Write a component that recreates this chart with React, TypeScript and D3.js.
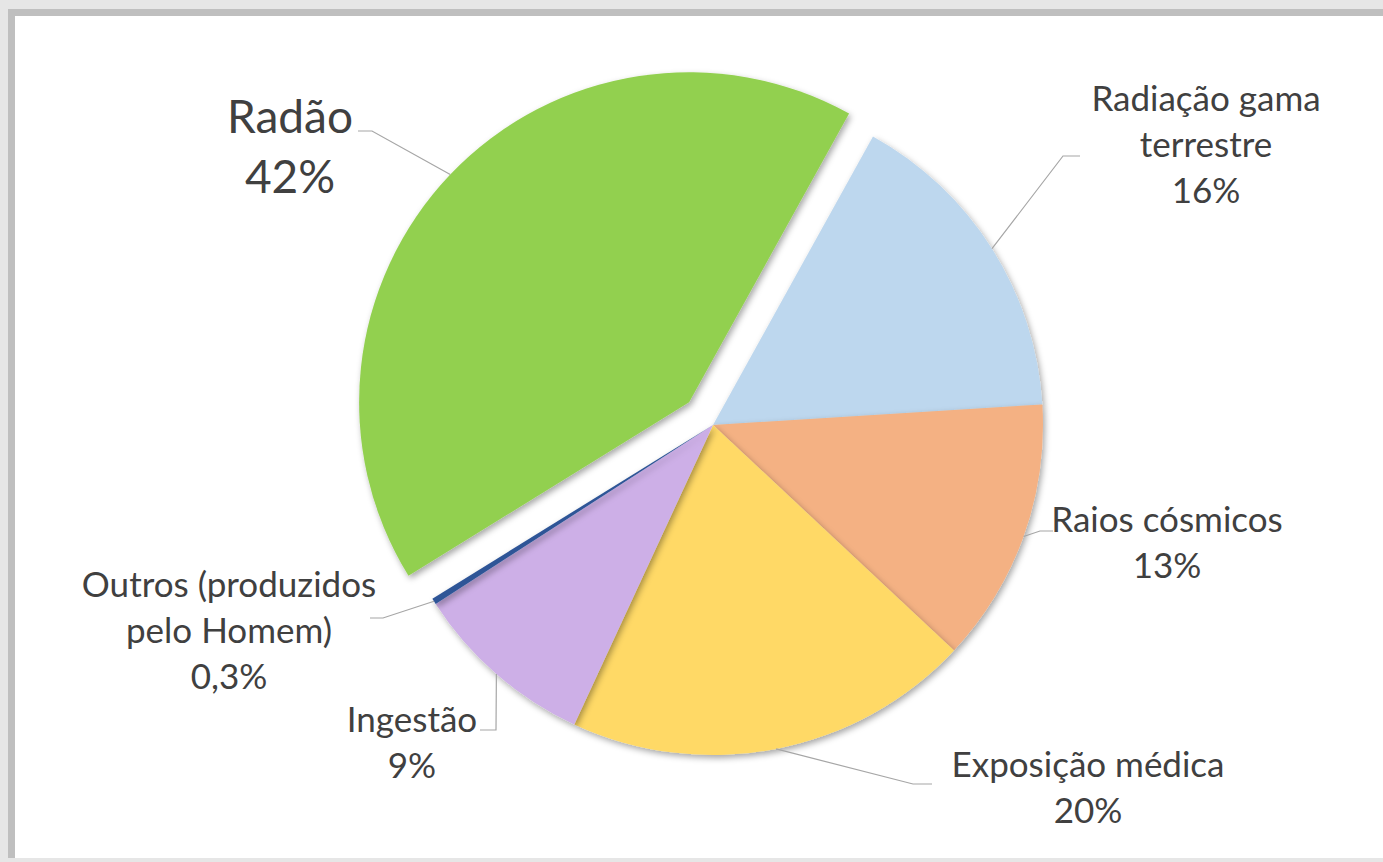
import React, { useRef, useEffect } from 'react';
import * as d3 from 'd3';

// dose shares by source, clockwise from the top-right
const categories: string[] = [
    "Radiação gama terrestre",
    "Raios cósmicos",
    "Exposição médica",
    "Ingestão",
    "Outros (produzidos pelo Homem)",
    "Radão",
];
const shares: number[] = [16, 13, 20, 9, 0.3, 42];
const shareLabels: string[] = ["16%", "13%", "20%", "9%", "0,3%", "42%"];
const labelLines: string[][] = [
    ["Radiação gama", "terrestre"],
    ["Raios cósmicos"],
    ["Exposição médica"],
    ["Ingestão"],
    ["Outros (produzidos", "pelo Homem)"],
    ["Radão"],
];
const sliceColors: string[] = ["#BDD7EE", "#F4B183", "#FFD966", "#CDAFE7", "#2F5597", "#92D050"];
const exploded: string = "Radão";

// label placement: text centre, first baseline, leader elbow + end
interface ILabelPos { x: number; y: number; fs: number; lh: number; leader: [number, number][] }
const labelPos: ILabelPos[] = [
    { x: 1206, y: 111, fs: 35, lh: 46, leader: [[1063, 156], [1080, 156]] },
    { x: 1167, y: 532, fs: 35, lh: 46, leader: [[1040, 531], [1053, 531]] },
    { x: 1088, y: 777, fs: 35, lh: 46, leader: [[913, 784], [932, 784]] },
    { x: 412, y: 732, fs: 35, lh: 46, leader: [[496, 730], [480, 730]] },
    { x: 229, y: 597, fs: 35, lh: 46, leader: [[383, 618], [370, 618]] },
    { x: 290, y: 133, fs: 46, lh: 60, leader: [[372, 131], [358, 131]] },
];

function App() {
    const d3Container = useRef(null);
    const width = 1383;
    const height = 862;
    const cx = 713;
    const cy = 425;
    const radius = 330;
    const explodeBy = 33;
    const start = 29 * Math.PI / 180;

    useEffect(() => {
        if (!d3Container.current) return;
        const svg: any = d3.select(d3Container.current);
        svg.selectAll("*").remove();

        const defs = svg.append("defs");
        const f = defs.append("filter").attr("id", "sliceShadow")
            .attr("x", "-20%").attr("y", "-20%").attr("width", "140%").attr("height", "140%");
        f.append("feDropShadow")
            .attr("dx", 2).attr("dy", 3).attr("stdDeviation", 3)
            .attr("flood-color", "#000").attr("flood-opacity", 0.35);

        // frame: grey surround with a darker inner edge top/left
        svg.append("rect").attr("width", width).attr("height", height).attr("fill", "#e6e6e6");
        svg.append("rect").attr("x", 8).attr("y", 9).attr("width", width - 8).attr("height", 849)
            .attr("fill", "#bfbfbf");
        svg.append("rect").attr("x", 15).attr("y", 16).attr("width", width - 15).attr("height", 842)
            .attr("fill", "#ffffff");

        const pie = d3.pie<number>()
            .sort(null)
            .value((d: number) => d)
            .startAngle(start)
            .endAngle(start + 2 * Math.PI);
        const arcs = pie(shares);

        const arc = d3.arc<any>().innerRadius(0).outerRadius(radius);
        const edge = d3.arc<any>().innerRadius(radius).outerRadius(radius);

        const offset = (i: number) => {
            if (categories[i] !== exploded) return [0, 0];
            const a = (arcs[i].startAngle + arcs[i].endAngle) / 2;
            return [Math.sin(a) * explodeBy, -Math.cos(a) * explodeBy];
        };

        const g = svg.append("g").attr("transform", `translate(${cx},${cy})`);
        g.selectAll("path.slice")
            .data(arcs)
            .join("path")
            .attr("class", "slice")
            .attr("transform", (_d: any, i: number) => `translate(${offset(i)[0]},${offset(i)[1]})`)
            .attr("d", arc)
            .attr("fill", (_d: any, i: number) => sliceColors[i])
            .attr("filter", "url(#sliceShadow)");

        // leader lines
        const line = d3.line();
        arcs.forEach((d: any, i: number) => {
            const [ox, oy] = offset(i);
            const c = edge.centroid(d);
            const pts: [number, number][] = [[cx + c[0] + ox, cy + c[1] + oy], ...labelPos[i].leader];
            svg.append("path")
                .attr("d", line(pts))
                .attr("fill", "none")
                .attr("stroke", "#a6a6a6")
                .attr("stroke-width", 1.2);
        });

        // labels
        const labels = svg.selectAll("text.lbl")
            .data(arcs)
            .join("text")
            .attr("class", "lbl")
            .attr("text-anchor", "middle")
            .attr("font-family", "Lato, 'Open Sans', sans-serif")
            .attr("fill", "#404040")
            .attr("font-size", (_d: any, i: number) => labelPos[i].fs);

        labels.selectAll("tspan")
            .data((_d: any, i: number) => [...labelLines[i], shareLabels[i]].map((t) => ({ t, i })))
            .join("tspan")
            .attr("x", (d: any) => labelPos[d.i].x)
            .attr("y", (d: any, k: number) => labelPos[d.i].y + k * labelPos[d.i].lh)
            .text((d: any) => d.t);
    }, []);

    return (
        <svg
            width={width}
            height={height}
            ref={d3Container}
            style={{ position: 'absolute', left: 0, top: 0, display: 'block' }}
        />
    );
}

export default App;
